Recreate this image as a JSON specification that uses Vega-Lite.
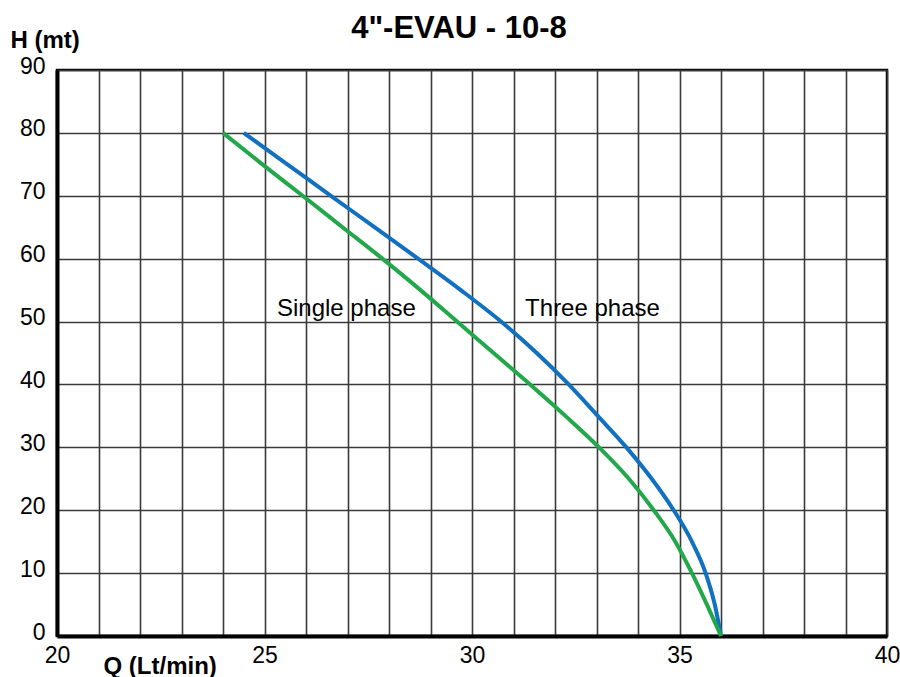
{
  "$schema": "https://vega.github.io/schema/vega-lite/v6.json",
  "width": 830,
  "height": 566,
  "autosize": {"type": "none"},
  "padding": {"left": 57, "top": 70, "right": 13, "bottom": 41},
  "background": "white",
  "config": {
    "view": {"stroke": "black", "strokeWidth": 2.5},
    "font": "Liberation Sans"
  },
  "title": {
    "text": "4\"-EVAU - 10-8",
    "font": "Liberation Sans",
    "fontSize": 31,
    "fontWeight": "bold",
    "color": "black",
    "anchor": "middle",
    "dx": -13,
    "dy": 32,
    "baseline": "alphabetic",
    "offset": -9
  },
  "layer": [
    {
      "data": {
        "values": [
          {"phase": "Three phase", "Q": 24.5, "H": 80},
          {"phase": "Three phase", "Q": 25.55, "H": 75},
          {"phase": "Three phase", "Q": 26.6, "H": 70},
          {"phase": "Three phase", "Q": 27.65, "H": 65},
          {"phase": "Three phase", "Q": 28.7, "H": 60},
          {"phase": "Three phase", "Q": 29.73, "H": 55},
          {"phase": "Three phase", "Q": 30.7, "H": 50},
          {"phase": "Three phase", "Q": 31.56, "H": 45},
          {"phase": "Three phase", "Q": 32.33, "H": 40},
          {"phase": "Three phase", "Q": 33.03, "H": 35},
          {"phase": "Three phase", "Q": 33.72, "H": 30},
          {"phase": "Three phase", "Q": 34.33, "H": 25},
          {"phase": "Three phase", "Q": 34.86, "H": 20},
          {"phase": "Three phase", "Q": 35.3, "H": 15},
          {"phase": "Three phase", "Q": 35.63, "H": 10},
          {"phase": "Three phase", "Q": 35.85, "H": 5},
          {"phase": "Three phase", "Q": 36.0, "H": 0},
          {"phase": "Single phase", "Q": 24.0, "H": 80},
          {"phase": "Single phase", "Q": 24.95, "H": 75},
          {"phase": "Single phase", "Q": 25.92, "H": 70},
          {"phase": "Single phase", "Q": 26.88, "H": 65},
          {"phase": "Single phase", "Q": 27.84, "H": 60},
          {"phase": "Single phase", "Q": 28.76, "H": 55},
          {"phase": "Single phase", "Q": 29.64, "H": 50},
          {"phase": "Single phase", "Q": 30.52, "H": 45},
          {"phase": "Single phase", "Q": 31.4, "H": 40},
          {"phase": "Single phase", "Q": 32.25, "H": 35},
          {"phase": "Single phase", "Q": 33.06, "H": 30},
          {"phase": "Single phase", "Q": 33.78, "H": 25},
          {"phase": "Single phase", "Q": 34.38, "H": 20},
          {"phase": "Single phase", "Q": 34.9, "H": 15},
          {"phase": "Single phase", "Q": 35.3, "H": 10},
          {"phase": "Single phase", "Q": 35.66, "H": 5},
          {"phase": "Single phase", "Q": 36.0, "H": 0}
        ]
      },
      "mark": {"type": "line", "strokeWidth": 4, "interpolate": "monotone"},
      "encoding": {
        "x": {
          "field": "Q",
          "type": "quantitative",
          "scale": {"domain": [20, 40], "nice": false, "zero": false},
          "axis": {
            "values": [20,21,22,23,24,25,26,27,28,29,30,31,32,33,34,35,36,37,38,39,40],
            "labelExpr": "datum.value % 5 === 0 ? datum.label : ''",
            "grid": true,
            "gridColor": "#3a3a3a",
            "gridWidth": 1.6,
            "gridOpacity": 1,
            "ticks": false,
            "domainColor": "black",
            "domainWidth": 4,
            "labelFont": "Liberation Sans",
            "labelFontSize": 23,
            "labelColor": "black",
            "labelPadding": 8,
            "labelFlush": false,
            "labelOverlap": false,
            "title": "Q (Lt/min)",
            "titleFont": "Liberation Sans",
            "titleFontSize": 24,
            "titleFontWeight": "bold",
            "titleColor": "black",
            "titleX": 46,
            "titleY": 30,
            "titleAlign": "left",
            "titleBaseline": "middle"
          }
        },
        "y": {
          "field": "H",
          "type": "quantitative",
          "scale": {"domain": [0, 90], "nice": false, "zero": false},
          "axis": {
            "values": [0,5,10,15,20,25,30,35,40,45,50,55,60,65,70,75,80,85,90],
            "labelExpr": "datum.value % 10 === 0 ? datum.label : ''",
            "grid": true,
            "gridColor": "#3a3a3a",
            "gridWidth": 1.6,
            "gridOpacity": 1,
            "ticks": false,
            "domainColor": "black",
            "domainWidth": 4,
            "labelFont": "Liberation Sans",
            "labelFontSize": 23,
            "labelColor": "black",
            "labelPadding": 12,
            "labelOffset": -4,
            "labelFlush": false,
            "labelOverlap": false,
            "title": "H (mt)",
            "titleFont": "Liberation Sans",
            "titleFontSize": 24,
            "titleFontWeight": "bold",
            "titleColor": "black",
            "titleAngle": 0,
            "titleX": -47,
            "titleY": -30,
            "titleAlign": "left",
            "titleBaseline": "middle"
          }
        },
        "color": {
          "field": "phase",
          "type": "nominal",
          "scale": {"domain": ["Single phase", "Three phase"], "range": ["#22a84a", "#1170bf"]},
          "legend": null
        },
        "order": {"field": "Q", "type": "quantitative"}
      }
    },
    {
      "data": {
        "values": [
          {"Q": 25.3, "H": 50.9, "label": "Single phase"},
          {"Q": 31.28, "H": 50.9, "label": "Three phase"}
        ]
      },
      "mark": {"type": "text", "align": "left", "baseline": "alphabetic", "fontSize": 24, "font": "Liberation Sans", "color": "black"},
      "encoding": {
        "x": {"field": "Q", "type": "quantitative"},
        "y": {"field": "H", "type": "quantitative"},
        "text": {"field": "label"}
      }
    }
  ]
}
